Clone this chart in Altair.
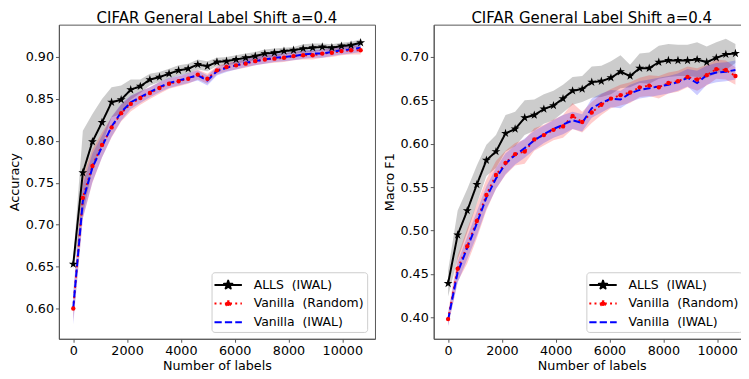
import altair as alt
import pandas as pd

# ---------------- data ----------------
x_labels = [0, 356, 712, 1068, 1424, 1780, 2136, 2492, 2848, 3204, 3560, 3916, 4272,
            4628, 4984, 5340, 5696, 6052, 6408, 6764, 7120, 7476, 7832, 8188, 8544,
            8900, 9256, 9612, 9968, 10324, 10680]

series_names = ["ALLS\u00a0 (IWAL)", "Vanilla\u00a0 (Random)", "Vanilla\u00a0 (IWAL)"]
series_colors = ["#000000", "#ff0000", "#0000ff"]

# Accuracy (left panel)
acc_alls = [0.653, 0.762, 0.799, 0.822, 0.846, 0.849, 0.861, 0.865, 0.873, 0.876, 0.880,
            0.884, 0.886, 0.891, 0.889, 0.894, 0.895, 0.897, 0.899, 0.901, 0.904, 0.905,
            0.907, 0.908, 0.910, 0.911, 0.912, 0.911, 0.913, 0.914, 0.917]
acc_rand = [0.600, 0.732, 0.770, 0.795, 0.816, 0.833, 0.844, 0.851, 0.857, 0.863, 0.868,
            0.871, 0.874, 0.879, 0.874, 0.884, 0.888, 0.890, 0.892, 0.895, 0.897, 0.898,
            0.899, 0.901, 0.902, 0.902, 0.904, 0.905, 0.907, 0.908, 0.908]
acc_iwal = [0.601, 0.728, 0.768, 0.793, 0.817, 0.834, 0.846, 0.852, 0.858, 0.864, 0.869,
            0.872, 0.875, 0.878, 0.872, 0.883, 0.887, 0.890, 0.893, 0.895, 0.897, 0.899,
            0.900, 0.901, 0.903, 0.904, 0.904, 0.906, 0.908, 0.909, 0.911]
acc_alls_sd = [0.006, 0.050, 0.033, 0.028, 0.018, 0.017, 0.012, 0.008, 0.007, 0.006, 0.006,
               0.006, 0.006, 0.006, 0.006, 0.005, 0.005, 0.005, 0.005, 0.005, 0.005, 0.005,
               0.004, 0.004, 0.005, 0.005, 0.004, 0.004, 0.004, 0.004, 0.004]
acc_rand_sd = [0.015, 0.025, 0.020, 0.015, 0.012, 0.010, 0.009, 0.008, 0.007, 0.007, 0.006,
               0.006, 0.006, 0.006, 0.006, 0.005, 0.005, 0.005, 0.005, 0.005, 0.005, 0.005,
               0.005, 0.005, 0.005, 0.005, 0.005, 0.005, 0.005, 0.005, 0.005]
acc_iwal_sd = [0.020, 0.020, 0.017, 0.013, 0.012, 0.010, 0.008, 0.007, 0.006, 0.006, 0.006,
               0.006, 0.006, 0.006, 0.006, 0.005, 0.005, 0.005, 0.005, 0.005, 0.005, 0.005,
               0.005, 0.005, 0.005, 0.005, 0.005, 0.005, 0.005, 0.005, 0.005]

# Macro F1 (right panel)
f1_alls = [0.439, 0.495, 0.523, 0.553, 0.581, 0.591, 0.612, 0.617, 0.630, 0.633, 0.640,
           0.644, 0.652, 0.661, 0.663, 0.671, 0.672, 0.676, 0.683, 0.678, 0.687, 0.687,
           0.694, 0.696, 0.696, 0.696, 0.697, 0.694, 0.699, 0.703, 0.704]
f1_rand = [0.398, 0.456, 0.482, 0.511, 0.541, 0.564, 0.578, 0.588, 0.591, 0.605, 0.610,
           0.616, 0.620, 0.632, 0.625, 0.636, 0.645, 0.652, 0.656, 0.659, 0.665, 0.667,
           0.665, 0.670, 0.672, 0.677, 0.674, 0.679, 0.686, 0.685, 0.678]
f1_iwal = [0.397, 0.452, 0.480, 0.508, 0.538, 0.560, 0.577, 0.587, 0.595, 0.604, 0.611,
           0.617, 0.622, 0.627, 0.624, 0.641, 0.647, 0.652, 0.651, 0.658, 0.662, 0.664,
           0.666, 0.668, 0.671, 0.676, 0.670, 0.679, 0.682, 0.683, 0.685]
f1_alls_sd = [0.015, 0.028, 0.025, 0.022, 0.018, 0.019, 0.021, 0.020, 0.020, 0.018, 0.017,
              0.017, 0.016, 0.016, 0.015, 0.018, 0.018, 0.019, 0.019, 0.013, 0.017, 0.018,
              0.019, 0.019, 0.018, 0.018, 0.020, 0.018, 0.018, 0.018, 0.011]
f1_rand_sd = [0.008, 0.015, 0.020, 0.020, 0.018, 0.016, 0.014, 0.013, 0.014, 0.013, 0.012,
              0.012, 0.013, 0.015, 0.012, 0.012, 0.012, 0.011, 0.012, 0.012, 0.011, 0.012,
              0.013, 0.012, 0.012, 0.012, 0.013, 0.012, 0.011, 0.011, 0.010]
f1_iwal_sd = [0.007, 0.012, 0.013, 0.014, 0.013, 0.012, 0.012, 0.011, 0.011, 0.011, 0.010,
              0.010, 0.011, 0.010, 0.010, 0.011, 0.011, 0.010, 0.010, 0.010, 0.010, 0.010,
              0.010, 0.010, 0.010, 0.010, 0.014, 0.011, 0.011, 0.011, 0.011]

x_ticks = [0, 2000, 4000, 6000, 8000, 10000]
acc_ticks = [0.60, 0.65, 0.70, 0.75, 0.80, 0.85, 0.90]
f1_ticks = [0.40, 0.45, 0.50, 0.55, 0.60, 0.65, 0.70]
title_text = "CIFAR General Label Shift a=0.4"

# ---------------- styling ----------------
FONT = "DejaVu Sans"
FRAME = "#555555"
PLOT_W = 323
PLOT_H = 321
STAR = ("M0,-1L0.2245,-0.309L0.951,-0.309L0.363,0.118L0.588,0.809L0,0.382"
        "L-0.588,0.809L-0.363,0.118L-0.951,-0.309L-0.2245,-0.309Z")
# legend symbols: unit = 8.75 px (symbolSize 306); line sample is 28 px long
LEG_STAR = ("M-1.6,0L1.6,0M0,-0.514L0.1154,-0.1588L0.4888,-0.1588L0.1866,0.0607"
            "L0.3022,0.4158L0,0.1963L-0.3022,0.4158L-0.1866,0.0607L-0.4888,-0.1588"
            "L-0.1154,-0.1588Z")
LEG_DOT = "M-1.6,0L1.6,0M0.286,0A0.286,0.286,0,1,1,-0.286,0A0.286,0.286,0,1,1,0.286,0Z"
LEG_LINE = "M-1.6,0L1.6,0"
DASHES = [[1, 0], [2, 3.3], [7.4, 3.2]]


def legend(lx, ly):
    leg = alt.Legend(
        title=None, orient="none", legendX=lx, legendY=ly,
        symbolSize=306, symbolStrokeWidth=2, symbolType=LEG_LINE, symbolOffset=4,
        labelFont=FONT, labelFontSize=12.7, labelColor="#000000", labelOffset=16,
        padding=3, rowPadding=2, cornerRadius=3,
        fillColor="rgba(255,255,255,0.8)", strokeColor="#cccccc",
    )
    # per-entry legend symbols (line sample + marker), passed straight to Vega
    leg._kwds["encode"] = {"symbols": {"update": {
        "shape": {"signal": "datum.index === 0 ? '%s' : datum.index === 1 ? '%s' : '%s'"
                  % (LEG_STAR, LEG_DOT, LEG_LINE)},
        "fill": {"signal": "datum.index === 0 ? '#000000' : datum.index === 1 ? '#ff0000' : 'transparent'"},
        "stroke": {"signal": "datum.index === 0 ? '#000000' : datum.index === 1 ? '#ff0000' : '#0000ff'"},
        "strokeDash": {"signal": "datum.index === 0 ? [1,0] : datum.index === 1 ? [2,3.3] : [7.4,3.2]"},
        "strokeJoin": {"value": "round"},
        "opacity": {"value": 1},
        "fillOpacity": {"value": 1},
        "strokeOpacity": {"value": 1},
    }}}
    return leg


def panel(means, sds, ytitle, ydom, yticks, lx):
    rows = []
    for s, m, sd in zip(series_names, means, sds):
        for xv, mv, sv in zip(x_labels, m, sd):
            rows.append({"x": xv, "series": s, "mean": mv, "lo": mv - sv, "hi": mv + sv})
    df = pd.DataFrame(rows)

    xenc = alt.X("x:Q", scale=alt.Scale(domain=[-534, 11214], nice=False, zero=False),
                 axis=alt.Axis(values=x_ticks, format="d", title="Number of labels"))
    yscale = alt.Scale(domain=ydom, nice=False, zero=False)
    yaxis = alt.Axis(values=yticks, format=".2f", title=ytitle)
    cscale = alt.Scale(domain=series_names, range=series_colors)
    leg = legend(lx, 253)

    base = alt.Chart(df)
    band = base.mark_area(fillOpacity=0.2, strokeWidth=0).encode(
        x=xenc,
        y=alt.Y("lo:Q", scale=yscale, axis=yaxis),
        y2="hi:Q",
        color=alt.Color("series:N", scale=cscale, legend=leg),
    )
    line = base.mark_line(strokeWidth=2).encode(
        x=xenc,
        y=alt.Y("mean:Q", scale=yscale, axis=yaxis),
        color=alt.Color("series:N", scale=cscale, legend=leg),
        strokeDash=alt.StrokeDash("series:N", scale=alt.Scale(domain=series_names, range=DASHES),
                                  legend=leg),
    )
    stars = base.transform_filter(alt.datum.series == series_names[0]).mark_point(
        shape=STAR, filled=True, size=90, color="#000000", opacity=1
    ).encode(x=xenc, y=alt.Y("mean:Q", scale=yscale, axis=yaxis))
    dots = base.transform_filter(alt.datum.series == series_names[1]).mark_point(
        shape="circle", filled=True, size=20, color="#ff0000", opacity=1
    ).encode(x=xenc, y=alt.Y("mean:Q", scale=yscale, axis=yaxis))

    return alt.layer(band, line, stars, dots).properties(
        width=PLOT_W, height=PLOT_H,
        title=alt.TitleParams(title_text, font=FONT, fontSize=15.3, fontWeight="normal",
                              color="#000000", offset=-1.5, anchor="middle"),
    )


# y domains: top edge and pixel-per-unit as in the picture
left = panel([acc_alls, acc_rand, acc_iwal], [acc_alls_sd, acc_rand_sd, acc_iwal_sd],
             "Accuracy", [0.9385 - PLOT_H / 857.0, 0.9385], acc_ticks, 156)
right = panel([f1_alls, f1_rand, f1_iwal], [f1_alls_sd, f1_rand_sd, f1_iwal_sd],
              "Macro F1", [0.7372 - PLOT_H / 887.0, 0.7372], f1_ticks, 156)

chart = alt.hconcat(left, right, spacing=7).resolve_scale(
    color="independent", strokeDash="independent"
).resolve_legend(color="independent", strokeDash="independent").properties(
    padding={"top": -2, "left": 0, "right": -10, "bottom": 0}
).configure_view(stroke=FRAME).configure_axis(
    grid=False, labelFont=FONT, labelFontSize=13, labelColor="#000000",
    titleFont=FONT, titleFontSize=13, titleFontWeight="normal", titleColor="#000000",
    domainColor=FRAME, tickColor=FRAME, tickSize=3.5, labelPadding=2,
).configure_axisY(titlePadding=3.5).configure_axisX(titlePadding=2, labelPadding=3)

# the legend "encode" block is a Vega pass-through that the schema does not list
_orig_to_dict = alt.HConcatChart.to_dict


def _to_dict_no_validate(self, *args, **kwargs):
    kwargs["validate"] = False
    return _orig_to_dict(self, *args, **kwargs)


alt.HConcatChart.to_dict = _to_dict_no_validate

chart.save("out.html", embed_options={"renderer": "svg", "actions": False})
